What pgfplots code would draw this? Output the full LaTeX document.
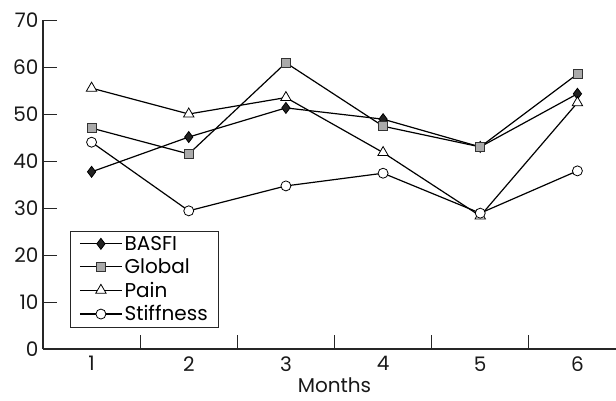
\documentclass[border=0pt]{standalone}
\usepackage{pgfplots}
\pgfplotsset{compat=1.18}
\usepackage{fontspec}
\setmainfont{Poppins}
\definecolor{sqgray}{RGB}{170,170,170}
\definecolor{dkfill}{RGB}{34,34,34}
\begin{document}
\begin{tikzpicture}
\begin{axis}[
  scale only axis,
  width=583pt, height=329pt,
  xmin=0.5, xmax=6.5, ymin=0, ymax=70,
  axis x line*=bottom, axis y line*=left,
  axis line style={line width=1.2pt, black!85},
  tick align=inside,
  major tick length=14pt, minor tick length=14pt,
  xtick={1,2,3,4,5,6},
  minor xtick={1.5,2.5,3.5,4.5,5.5},
  major x tick style={draw=none},
  minor x tick style={line width=1pt, black!85},
  ytick={0,10,...,70},
  major y tick style={line width=1pt, black!85},
  /pgf/number format/assume math mode=true,
  tick label style={font=\fontsize{20}{24}\selectfont, text=black!90},
  x tick label style={yshift=-4pt},
  y tick label style={xshift=-1pt},
  xlabel={Months},
  xlabel style={font=\fontsize{20}{24}\selectfont, text=black!90, yshift=1pt},
  legend style={at={(rel axis cs:0.046,0.064)}, anchor=south west,
    draw=black!85, line width=1pt, font=\fontsize{20}{24}\selectfont,
    row sep=3pt, inner xsep=9pt, inner ysep=3pt},
  legend cell align=left,
  legend image code/.code={
    \draw[#1, line width=1.2pt] (0pt,0pt) -- (42pt,0pt);
    \draw[#1, only marks] plot coordinates {(21pt,0pt)};
  },
  every axis plot/.append style={line width=1.2pt, black},
]
\addplot[mark=diamond*, mark size=5.5pt, mark options={fill=dkfill, draw=black, line width=0.8pt}]
  coordinates {(1,37.7) (2,45.1) (3,51.3) (4,48.9) (5,43.0) (6,54.3)};
\addlegendentry{BASFI}
\addplot[mark=square*, mark size=4.5pt, mark options={fill=sqgray, draw=black!80, line width=0.8pt}]
  coordinates {(1,47.0) (2,41.5) (3,60.9) (4,47.4) (5,43.0) (6,58.5)};
\addlegendentry{Global}
\addplot[mark=triangle*, mark size=6pt, mark options={fill=white, draw=black, line width=0.8pt}]
  coordinates {(1,55.5) (2,50.0) (3,53.5) (4,41.8) (5,28.3) (6,52.4)};
\addlegendentry{Pain}
\addplot[mark=*, mark size=5pt, mark options={fill=white, draw=black, line width=0.8pt}]
  coordinates {(1,44.0) (2,29.4) (3,34.7) (4,37.4) (5,28.9) (6,37.9)};
\addlegendentry{Stiffness}
\end{axis}
\pgfresetboundingbox
\path (-43pt,-51pt) rectangle (573pt,349pt);
\end{tikzpicture}
\end{document}
